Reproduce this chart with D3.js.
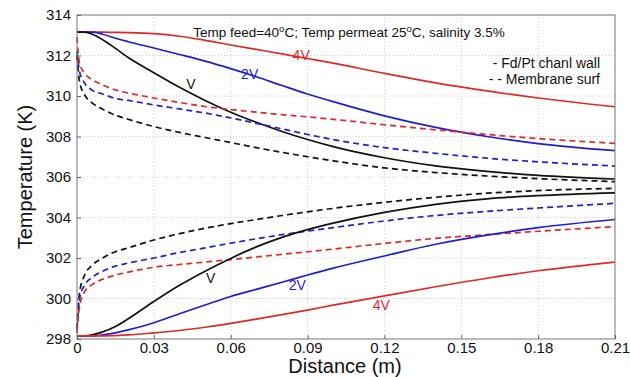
<!DOCTYPE html>
<html>
<head>
<meta charset="utf-8">
<script src="https://cdn.jsdelivr.net/npm/d3@7"></script>
<style>
  body { margin: 0; background: #fff; }
  svg { display: block; font-family: 'Liberation Sans', Arial, sans-serif; }
</style>
</head>
<body>
<svg id="chart" width="630" height="377"></svg>
<script>
// distance (m) sample points used by every curve
const xs = [0, 0.001, 0.003, 0.006, 0.01, 0.015, 0.02, 0.03, 0.04, 0.05, 0.06, 0.07, 0.08, 0.09, 0.1, 0.12, 0.14, 0.16, 0.18, 0.21];

// feed/permeate channel wall temperatures (solid)
const wallHotV  = [313.15, 313.15, 313.15, 313.05, 312.78, 312.35, 311.9, 311.15, 310.43, 309.78, 309.2, 308.7, 308.25, 307.85, 307.5, 306.95, 306.55, 306.28, 306.08, 305.9];
const wallHot2V = [313.15, 313.15, 313.15, 313.15, 313.05, 312.85, 312.68, 312.37, 312.05, 311.72, 311.35, 310.95, 310.52, 310.1, 309.72, 309.02, 308.45, 308.0, 307.65, 307.3];
const wallHot4V = [313.15, 313.15, 313.15, 313.15, 313.15, 313.14, 313.13, 313.08, 312.95, 312.75, 312.52, 312.3, 312.08, 311.85, 311.62, 311.12, 310.65, 310.25, 309.9, 309.47];
const wallColdV  = [298.15, 298.15, 298.15, 298.2, 298.35, 298.62, 299.0, 299.85, 300.65, 301.35, 301.98, 302.55, 303.02, 303.4, 303.72, 304.25, 304.65, 304.92, 305.08, 305.22];
const wallCold2V = [298.15, 298.15, 298.15, 298.15, 298.2, 298.3, 298.45, 298.8, 299.25, 299.68, 300.1, 300.45, 300.8, 301.16, 301.5, 302.1, 302.68, 303.13, 303.5, 303.9];
const wallCold4V = [298.15, 298.15, 298.15, 298.15, 298.15, 298.17, 298.2, 298.3, 298.42, 298.58, 298.77, 298.98, 299.2, 299.43, 299.67, 300.13, 300.58, 301.0, 301.37, 301.8];

// membrane surface temperatures (dashed)
const memHotV  = [312.0, 310.7, 310.05, 309.65, 309.35, 309.05, 308.85, 308.49, 308.2, 307.95, 307.7, 307.45, 307.22, 307.0, 306.8, 306.45, 306.22, 306.05, 305.92, 305.77];
const memHot2V = [312.2, 311.2, 310.63, 310.28, 310.1, 309.88, 309.78, 309.56, 309.36, 309.16, 308.92, 308.65, 308.38, 308.1, 307.85, 307.45, 307.17, 306.93, 306.75, 306.54];
const memHot4V = [312.9, 311.6, 311.12, 310.8, 310.55, 310.3, 310.15, 309.9, 309.68, 309.48, 309.33, 309.2, 309.08, 308.97, 308.85, 308.58, 308.33, 308.1, 307.9, 307.66];
const memColdV  = [298.5, 300.3, 301.16, 301.65, 302.0, 302.31, 302.5, 302.89, 303.2, 303.47, 303.7, 303.9, 304.1, 304.28, 304.45, 304.75, 305.0, 305.2, 305.33, 305.44];
const memCold2V = [298.4, 300.0, 300.67, 301.05, 301.35, 301.6, 301.75, 302.0, 302.27, 302.5, 302.73, 302.95, 303.15, 303.33, 303.5, 303.83, 304.1, 304.3, 304.47, 304.7];
const memCold4V = [298.3, 299.6, 300.34, 300.7, 300.95, 301.16, 301.3, 301.54, 301.68, 301.8, 301.92, 302.05, 302.18, 302.31, 302.44, 302.72, 302.97, 303.15, 303.32, 303.55];

const xTicks = [0, 0.03, 0.06, 0.09, 0.12, 0.15, 0.18, 0.21];
const yTicks = [298, 300, 302, 304, 306, 308, 310, 312, 314];

const red = '#e02828', blue = '#1f1fd0', black = '#111111';

const series = [
	{ values: wallHot4V, color: red, dashed: false },
	{ values: wallHot2V, color: blue, dashed: false },
	{ values: wallHotV, color: black, dashed: false },
	{ values: memHot4V, color: red, dashed: true },
	{ values: memHot2V, color: blue, dashed: true },
	{ values: memHotV, color: black, dashed: true },
	{ values: memColdV, color: black, dashed: true },
	{ values: memCold2V, color: blue, dashed: true },
	{ values: memCold4V, color: red, dashed: true },
	{ values: wallColdV, color: black, dashed: false },
	{ values: wallCold2V, color: blue, dashed: false },
	{ values: wallCold4V, color: red, dashed: false }
];

// curve labels: [distance, temperature at baseline, text, colour]
const curveLabels = [
	[0.0875, 311.78, '4V', red],
	[0.0674, 310.86, '2V', blue],
	[0.0445, 310.35, 'V', black],
	[0.0522, 300.79, 'V', black],
	[0.086, 300.42, '2V', blue],
	[0.1188, 299.43, '4V', red]
];

const width = 630, height = 377;
const margin = { top: 15, right: 15, bottom: 38, left: 77 };

const svg = d3.select('#chart');
const x = d3.scaleLinear().domain([0, 0.21]).range([margin.left, width - margin.right]);
const y = d3.scaleLinear().domain([298, 314]).range([height - margin.bottom, margin.top]);

// grid
const grid = svg.append('g').attr('stroke', '#c8c8c8').attr('stroke-width', 0.8).attr('stroke-dasharray', '1,2');
grid.selectAll('.gx').data(xTicks.slice(1, -1)).enter().append('line')
	.attr('x1', d => x(d)).attr('x2', d => x(d))
	.attr('y1', y.range()[1]).attr('y2', y.range()[0]);
grid.selectAll('.gy').data(yTicks.slice(1, -1)).enter().append('line')
	.attr('y1', d => y(d)).attr('y2', d => y(d))
	.attr('x1', x.range()[0]).attr('x2', x.range()[1]);

// curves
const line = d3.line()
	.x((d, i) => x(xs[i]))
	.y(d => y(d))
	.curve(d3.curveMonotoneX);

svg.append('g').selectAll('path')
	.data(series)
	.enter().append('path')
	.attr('fill', 'none')
	.attr('stroke', d => d.color)
	.attr('stroke-width', 1.7)
	.attr('stroke-dasharray', d => d.dashed ? '6,4' : null)
	.attr('d', d => line(d.values));

// frame
svg.append('rect')
	.attr('x', x.range()[0]).attr('y', y.range()[1])
	.attr('width', x.range()[1] - x.range()[0])
	.attr('height', y.range()[0] - y.range()[1])
	.attr('fill', 'none').attr('stroke', '#777').attr('stroke-width', 1);

// axes, matlab style ticks pointing inward
const xAxis = svg.append('g')
	.attr('transform', `translate(0,${y.range()[0]})`)
	.call(d3.axisBottom(x).tickValues(xTicks).tickSizeInner(-4).tickSizeOuter(0)
		.tickFormat(d => d === 0 ? '0' : d3.format('.2f')(d)));
xAxis.select('.domain').remove();
xAxis.selectAll('line').attr('stroke', '#666');
xAxis.selectAll('text').attr('fill', '#111').attr('font-size', 15).attr('dy', '0.55em')
	.attr('y', 6);

const yAxis = svg.append('g')
	.attr('transform', `translate(${x.range()[0]},0)`)
	.call(d3.axisLeft(y).tickValues(yTicks).tickSizeInner(-4).tickSizeOuter(0));
yAxis.select('.domain').remove();
yAxis.selectAll('line').attr('stroke', '#666');
yAxis.selectAll('text').attr('fill', '#111').attr('font-size', 15).attr('x', -6);

// axis titles
svg.append('text')
	.attr('x', 345)
	.attr('y', 373)
	.attr('text-anchor', 'middle')
	.attr('font-size', 20)
	.attr('fill', '#111')
	.text('Distance (m)');

svg.append('text')
	.attr('transform', `translate(32,${(y.range()[0] + y.range()[1]) / 2}) rotate(-90)`)
	.attr('text-anchor', 'middle')
	.attr('font-size', 20)
	.attr('fill', '#111')
	.text('Temperature (K)');

// curve labels
svg.append('g').selectAll('text')
	.data(curveLabels)
	.enter().append('text')
	.attr('x', d => x(d[0]))
	.attr('y', d => y(d[1]))
	.attr('text-anchor', 'middle')
	.attr('font-size', 14)
	.attr('fill', d => d[3])
	.text(d => d[2]);

// annotations
svg.append('text')
	.attr('x', 349).attr('y', 37)
	.attr('text-anchor', 'middle')
	.attr('font-size', 13.5)
	.attr('fill', '#111')
	.html('Temp feed=40<tspan dy="-5" font-size="9.5">o</tspan><tspan dy="5">C; Temp permeat 25</tspan><tspan dy="-5" font-size="9.5">o</tspan><tspan dy="5">C, salinity 3.5%</tspan>');

svg.append('text')
	.attr('x', 600).attr('y', 68)
	.attr('text-anchor', 'end')
	.attr('font-size', 14)
	.attr('fill', '#111')
	.text('- Fd/Pt chanl wall');
svg.append('text')
	.attr('x', 600).attr('y', 84)
	.attr('text-anchor', 'end')
	.attr('font-size', 14)
	.attr('fill', '#111')
	.text('- - Membrane surf');
</script>
</body>
</html>
